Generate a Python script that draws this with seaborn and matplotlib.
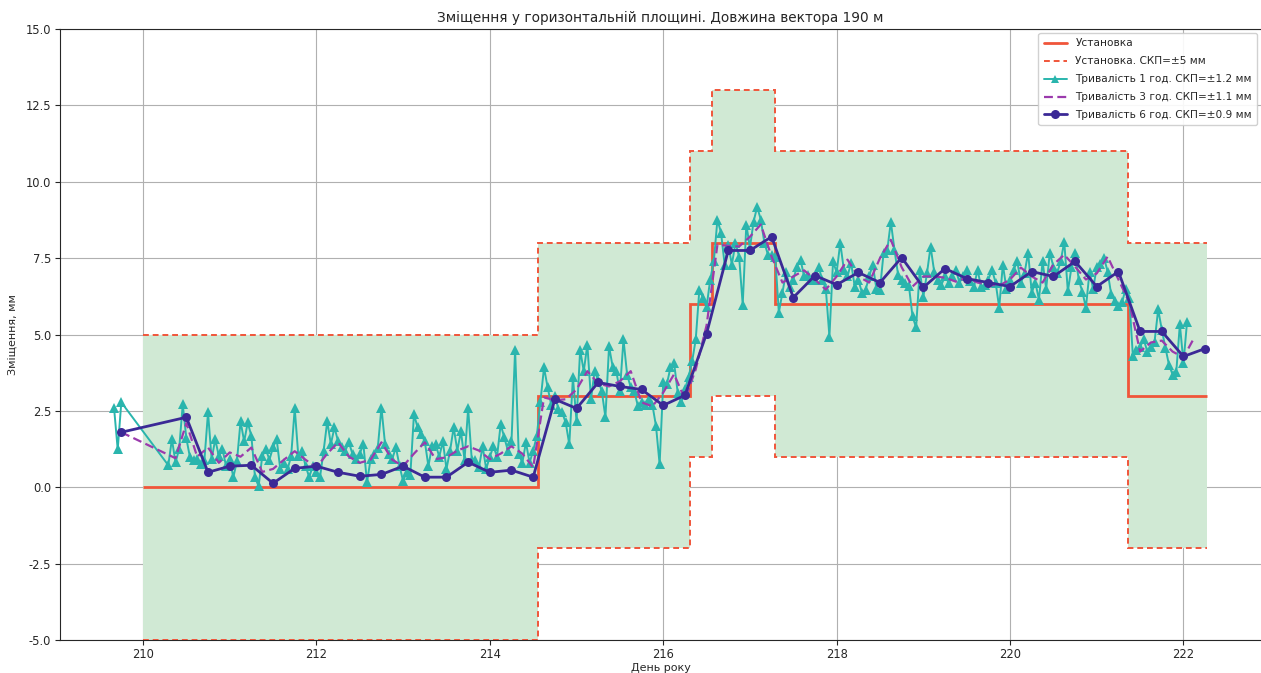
import numpy as np
import pandas as pd
import matplotlib
matplotlib.use("Agg")
import matplotlib.pyplot as plt
import seaborn as sns

# ---- design (setup) displacement, mm, piecewise constant between day edges ----
setup_edges = [210.0, 214.55, 216.31, 216.56, 217.29, 221.36, 222.27]
setup_levels = [0.0, 3.0, 6.0, 8.0, 6.0, 3.0]
setup_rmse = 5.0

# ---- 1-hour solutions ----
hour1_early_days = [209 + 16 / 24, 209 + 17 / 24, 209 + 18 / 24]
hour1_early_vals = [2.58, 1.24, 2.78]
hour1_start = 210 + 7 / 24
hour1_vals = [
    0.72, 1.57, 0.82, 1.24, 2.71, 1.60, 0.98, 0.90, 0.92, 0.75, 0.90, 2.45,
    0.92, 1.57, 1.01, 1.24, 0.69, 0.92, 0.33, 0.85, 2.16, 1.50, 2.12, 1.67,
    0.33, 0.03, 1.01, 1.24, 0.90, 1.31, 1.57, 0.59, 0.80, 0.59, 1.01, 2.58,
    1.01, 1.18, 0.70, 0.33, 0.69, 0.50, 0.33, 1.20, 2.16, 1.41, 1.96, 1.50,
    1.31, 1.20, 1.47, 1.08, 0.92, 1.10, 1.41, 0.16, 0.92, 1.08, 1.30, 2.61,
    1.41, 1.10, 0.92, 1.31, 0.70, 0.20, 0.50, 0.40, 2.39, 1.96, 1.73, 1.50,
    0.69, 1.34, 1.41, 1.00, 1.50, 0.60, 1.20, 1.96, 1.20, 1.83, 0.90, 2.58,
    0.90, 0.90, 0.65, 1.34, 0.60, 1.00, 1.34, 1.00, 2.06, 1.63, 1.20, 1.50,
    4.50, 1.10, 0.80, 1.47, 0.80, 1.20, 1.67, 2.78, 3.92, 3.27, 2.70, 3.00,
    2.55, 2.45, 2.12, 1.40, 3.60, 2.16, 4.50, 3.80, 4.67, 2.88, 3.80, 3.50,
    3.14, 2.29, 4.61, 3.95, 3.80, 3.14, 4.84, 3.69, 3.27, 3.14, 2.65, 2.80,
    2.70, 2.90, 2.70, 2.00, 0.75, 3.43, 3.37, 3.92, 4.08, 3.10, 2.78, 3.20,
    3.60, 4.12, 4.84, 6.47, 6.20, 5.90, 6.80, 7.39, 8.76, 8.33, 7.29, 7.94,
    7.29, 8.00, 7.55, 5.98, 8.60, 7.84, 8.69, 9.18, 8.76, 8.00, 7.61, 7.60,
    7.55, 5.72, 6.37, 7.03, 6.57, 6.80, 7.22, 7.45, 6.90, 6.96, 6.80, 6.80,
    7.22, 6.80, 6.50, 4.93, 7.39, 7.03, 8.00, 7.12, 6.90, 7.35, 6.57, 6.80,
    6.37, 6.45, 6.90, 7.29, 6.50, 6.47, 7.68, 7.75, 8.69, 7.78, 6.96, 6.80,
    6.70, 6.60, 5.59, 5.23, 7.12, 6.24, 7.00, 7.88, 7.06, 6.80, 6.63, 6.90,
    6.70, 6.90, 7.12, 6.70, 6.90, 7.12, 6.75, 6.55, 7.12, 6.55, 6.63, 6.80,
    7.12, 6.70, 5.88, 7.29, 6.50, 6.80, 7.12, 7.39, 6.70, 7.00, 7.68, 6.37,
    6.70, 6.14, 7.39, 6.50, 7.68, 7.22, 7.00, 7.39, 8.04, 6.41, 7.20, 7.68,
    6.80, 6.40, 5.88, 7.06, 6.50, 7.20, 7.30, 7.52, 7.06, 6.31, 6.10, 5.92,
    6.05, 6.50, 6.20, 4.28, 4.50, 4.60, 4.84, 4.44, 4.60, 4.77, 5.82, 5.16,
    4.57, 4.00, 3.69, 3.76, 5.33, 4.08, 5.42,
]

# ---- 3-hour solutions ----
hour3_first = (209.75, 1.80)
hour3_start = 210.375
hour3_vals = [
    0.95, 2.10, 1.00, 1.30, 0.80, 1.14, 1.00, 1.30, 0.50, 0.60, 0.90, 1.18,
    0.90, 0.65, 1.10, 1.47, 1.00, 0.80, 0.90, 1.47, 0.90, 0.69, 1.10, 1.47,
    0.92, 0.98, 1.20, 1.34, 1.20, 0.92, 1.10, 1.34, 1.10, 0.65, 2.94, 2.85,
    2.88, 3.20, 3.80, 3.40, 3.30, 3.47, 3.80, 2.78, 2.65, 3.10, 3.70, 2.88,
    3.86, 5.30, 7.94, 7.90, 7.88, 8.20, 8.60, 7.55, 6.70, 6.90, 7.10, 6.80,
    6.47, 6.90, 7.45, 6.90, 6.70, 7.50, 8.10, 7.20, 6.57, 6.90, 6.90, 6.86,
    6.73, 6.86, 6.70, 6.63, 6.60, 6.80, 7.19, 6.90, 6.70, 7.29, 7.61, 7.22,
    6.80, 7.00, 7.55, 6.80, 6.05, 4.44, 4.74, 4.80, 4.44, 4.25, 4.90,
]

# ---- 6-hour solutions ----
hour6_first = (209.75, 1.80)
hour6_start = 210.5
hour6_vals = [
    2.29, 0.49, 0.69, 0.72, 0.13, 0.62, 0.69, 0.49, 0.36, 0.42, 0.69, 0.33,
    0.33, 0.82, 0.49, 0.56, 0.33, 2.88, 2.58, 3.43, 3.30, 3.20, 2.68, 3.01,
    5.03, 7.75, 7.75, 8.20, 6.21, 6.93, 6.63, 7.03, 6.70, 7.52, 6.54, 7.16,
    6.83, 6.70, 6.57, 7.06, 6.90, 7.39, 6.57, 7.06, 5.10, 5.10, 4.28, 4.54,
]

labels = [
    "Установка",
    "Установка. СКП=±5 мм",
    "Тривалість 1 год. СКП=±1.2 мм",
    "Тривалість 3 год. СКП=±1.1 мм",
    "Тривалість 6 год. СКП=±0.9 мм",
]

# ---- assemble series tables ----
d1 = pd.DataFrame({
    "day": hour1_early_days + list(hour1_start + np.arange(len(hour1_vals)) / 24),
    "val": hour1_early_vals + hour1_vals,
})
d3 = pd.DataFrame({
    "day": [hour3_first[0]] + list(hour3_start + np.arange(len(hour3_vals)) * 0.125),
    "val": [hour3_first[1]] + hour3_vals,
})
d6 = pd.DataFrame({
    "day": [hour6_first[0]] + list(hour6_start + np.arange(len(hour6_vals)) * 0.25),
    "val": [hour6_first[1]] + hour6_vals,
})

sns.set_style("ticks")
plt.rcParams["font.family"] = ["DejaVu Sans"]

fig = plt.figure(figsize=(12.61, 6.73), dpi=100)
ax = fig.add_axes([59.5 / 1261, 33 / 673, 1202 / 1261, 611 / 673])

c_setup = "#f0553a"
c_fill = "#d0e9d4"
c_h1 = "#2ab5ad"
c_h3 = "#9b3aad"
c_h6 = "#3b2996"

levels = np.array(setup_levels)
ax.stairs(levels + setup_rmse, setup_edges, baseline=levels - setup_rmse,
          fill=True, color=c_fill, zorder=1, linewidth=0)
ax.stairs(levels, setup_edges, baseline=None, color=c_setup,
          linewidth=2.0, zorder=3)
ax.stairs(levels + setup_rmse, setup_edges, baseline=None,
          color=c_setup, linestyle=(0, (3, 2)), linewidth=1.4, zorder=3)
ax.stairs(levels - setup_rmse, setup_edges, baseline=None,
          color=c_setup, linestyle=(0, (3, 2)), linewidth=1.4, zorder=3)

sns.lineplot(data=d1, x="day", y="val", ax=ax, sort=False, estimator=None,
             color=c_h1, marker="^", markersize=6.5, markeredgewidth=0,
             linewidth=1.4, zorder=4, legend=False)
sns.lineplot(data=d3, x="day", y="val", ax=ax, sort=False, estimator=None,
             color=c_h3, linestyle=(0, (4, 2)), linewidth=1.6, zorder=5,
             legend=False)
sns.lineplot(data=d6, x="day", y="val", ax=ax, sort=False, estimator=None,
             color=c_h6, marker="o", markersize=6.5, markeredgewidth=0,
             linewidth=2.0, zorder=6, legend=False)

handles = [
    plt.Line2D([], [], color=c_setup, linewidth=2.0),
    plt.Line2D([], [], color=c_setup, linestyle=(0, (3, 2)), linewidth=1.4),
    plt.Line2D([], [], color=c_h1, marker="^", markersize=6, markeredgewidth=0, linewidth=1.4),
    plt.Line2D([], [], color=c_h3, linestyle=(0, (4, 2)), linewidth=1.6),
    plt.Line2D([], [], color=c_h6, marker="o", markersize=6.5, markeredgewidth=0, linewidth=2.0),
]
ax.legend(handles, labels, loc="upper right", fontsize=7.6, framealpha=0.9,
          borderaxespad=0.4, handlelength=2.2, labelspacing=0.75,
          borderpad=0.5)

ax.set_xlim(209.037, 222.9)
ax.set_ylim(-5, 15)
ax.set_xticks([210, 212, 214, 216, 218, 220, 222])
ax.set_yticks(np.arange(-5, 15.1, 2.5))
ax.yaxis.set_major_formatter(matplotlib.ticker.FormatStrFormatter("%.1f"))
ax.tick_params(labelsize=8.3, length=3.5, width=0.8, pad=2.5)
ax.grid(True, color="#b0b0b0", linewidth=0.8)
ax.set_axisbelow(True)
for s in ax.spines.values():
    s.set_linewidth(0.8)

ax.set_title("Зміщення у горизонтальній площині. Довжина вектора 190 м",
             fontsize=9.8, pad=5)
ax.set_xlabel("День року", fontsize=8, labelpad=1)
ax.set_ylabel("Зміщення, мм", fontsize=8, labelpad=6)

fig.savefig("out.png", dpi=100)
